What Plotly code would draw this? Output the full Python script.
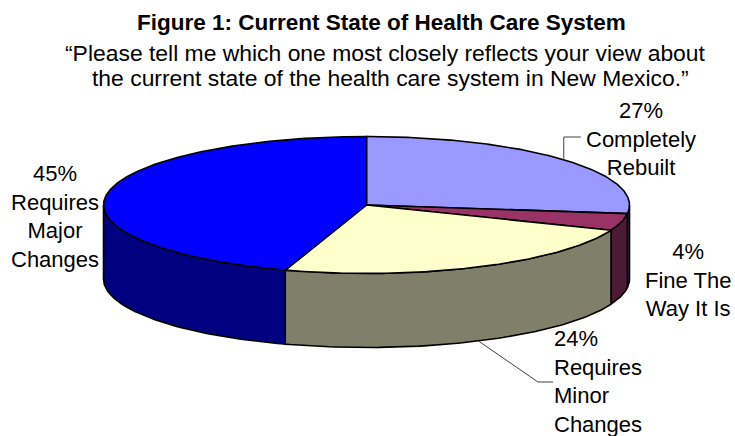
import numpy as np
import plotly.graph_objects as go

# ---- data ----
categories = ["Completely Rebuilt", "Fine The Way It Is", "Requires Minor Changes", "Requires Major Changes"]
values = [27, 4, 24, 45]
label_lines = [["27%", "Completely", "Rebuilt"],
               ["4%", "Fine The", "Way It Is"],
               ["24%", "Requires", "Minor", "Changes"],
               ["45%", "Requires", "Major", "Changes"]]
top_colors = ["#9999FF", "#993366", "#FFFFCC", "#0000FF"]
side_colors = ["#4D4D80", "#4D1A33", "#80806A", "#000080"]

title_text = "Figure 1: Current State of Health Care System"
subtitle_lines = ["\u201cPlease tell me which one most closely reflects your view about",
                  "the current state of the health care system in New Mexico.\u201d"]

# ---- geometry (pixel-like layout space) ----
W, H = 735, 436
cx, cy = 366.5, 205.0
rx, ry = 263.0, 68.5
depth = 74.0

def pt(theta_deg, dy=0.0):
    t = np.radians(theta_deg)
    return cx + rx * np.sin(t), cy - ry * np.cos(t) + dy

total = float(sum(values))
bounds = np.concatenate([[0.0], np.cumsum(values) / total * 360.0])

fig = go.Figure()

# side faces (front half: 90..270 deg)
for i in range(len(values)):
    a, b = bounds[i], bounds[i + 1]
    lo, hi = max(a, 90.0), min(b, 270.0)
    if hi <= lo:
        continue
    th = np.linspace(lo, hi, 80)
    xs_top, ys_top = pt(th)
    xs_bot, ys_bot = pt(th[::-1], depth)
    xs = np.concatenate([xs_top, xs_bot, xs_top[:1]])
    ys = np.concatenate([ys_top, ys_bot, ys_top[:1]])
    fig.add_trace(go.Scatter(x=xs, y=ys, mode="lines", fill="toself",
                             fillcolor=side_colors[i],
                             line=dict(color="black", width=1.6),
                             hoverinfo="skip", showlegend=False))

# top faces
for i in range(len(values)):
    a, b = bounds[i], bounds[i + 1]
    th = np.linspace(a, b, max(8, int((b - a) * 2)))
    xa, ya = pt(th)
    xs = np.concatenate([[cx], xa, [cx]])
    ys = np.concatenate([[cy], ya, [cy]])
    fig.add_trace(go.Scatter(x=xs, y=ys, mode="lines", fill="toself",
                             fillcolor=top_colors[i],
                             line=dict(color="black", width=1.6),
                             hovertext=categories[i], hoverinfo="text",
                             showlegend=False))

font_family = "Liberation Sans, Arial, sans-serif"

# leader lines computed from slice mid-angles
mid0 = (bounds[0] + bounds[1]) / 2
x0, y0 = pt(mid0)
fig.add_trace(go.Scatter(x=[x0, x0, x0 + 17], y=[y0, 137, 137], mode="lines",
                         line=dict(color="#404040", width=1), hoverinfo="skip",
                         showlegend=False))
mid2 = (bounds[2] + bounds[3]) / 2
x2, y2 = pt(mid2, depth)
fig.add_trace(go.Scatter(x=[x2, 538, 553], y=[y2, 382, 382], mode="lines",
                         line=dict(color="#404040", width=1), hoverinfo="skip",
                         showlegend=False))

label_pos = [dict(x=641, y=139, xanchor="center", align="center"),
             dict(x=688, y=280, xanchor="center", align="center"),
             dict(x=552, y=381, xanchor="left", align="left"),
             dict(x=55, y=216, xanchor="center", align="center")]

annotations = []
for lines, pos in zip(label_lines, label_pos):
    annotations.append(dict(text="<br>".join(lines), x=pos["x"], y=pos["y"],
                            xref="x", yref="y", xanchor=pos["xanchor"],
                            yanchor="middle", align=pos["align"], showarrow=False,
                            font=dict(family=font_family, size=22, color="black")))

annotations.append(dict(text="<b>" + title_text + "</b>",
                        x=381, y=22, xref="x", yref="y", showarrow=False,
                        xanchor="center", yanchor="middle",
                        font=dict(family=font_family, size=22.5, color="black")))
for txt, xc, yc in zip(subtitle_lines, [385, 390], [53, 78]):
    annotations.append(dict(text=txt, x=xc, y=yc, xref="x", yref="y", showarrow=False,
                            xanchor="center", yanchor="middle",
                            font=dict(family=font_family, size=22.9, color="black")))

fig.update_layout(
    width=W, height=H,
    margin=dict(l=0, r=0, t=0, b=0),
    paper_bgcolor="white", plot_bgcolor="white",
    xaxis=dict(range=[0, W], visible=False, fixedrange=True),
    yaxis=dict(range=[H, 0], visible=False, fixedrange=True),
    annotations=annotations,
    showlegend=False,
)

fig.write_html("out.html", config={"displayModeBar": False},
               post_script="document.body.style.margin='0px';")
